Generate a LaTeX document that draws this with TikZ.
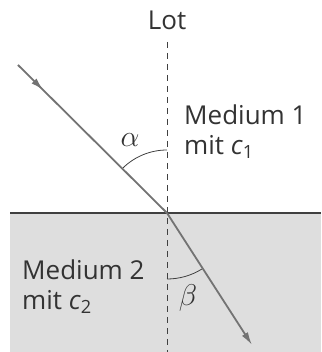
\documentclass[tikz,border=0pt]{standalone}
\usepackage{fix-cm}
\usepackage{fontspec}
\setmainfont{Open Sans}
\usetikzlibrary{arrows.meta, decorations.markings}

\begin{document}
\begin{tikzpicture}[
  x=1pt, y=1pt,
  label/.style={font=\fontsize{26}{30}\selectfont, text=black!80, inner sep=0pt},
  greek/.style={font=\fontsize{20}{24}\selectfont, scale=1.5, text=black!80, inner sep=0pt},
  lot/.style={draw=black!75, line width=0.9pt, dash pattern=on 6pt off 5pt},
  border/.style={draw=black!75, line width=2.8pt},
  ray/.style={draw=black!55, line width=1.8pt},
  angle/.style={draw=black!75, line width=0.8pt},
  tip/.style={-{Latex[length=13pt, width=7pt]}}
]
  \useasboundingbox (0,0) rectangle (321,352);

  % Medium 2 region.
  \fill[black!13] (10,0) rectangle (321,139);

  % Points on the rays.
  \coordinate (o) at (167,139);
  \coordinate (src) at (18,287);
  \coordinate (dst) at (252,7);
  \coordinate (lotT) at (167,310);
  \coordinate (lotB) at (167,0);
  \coordinate (bL) at (10,139);
  \coordinate (bR) at (321,139);

  % Perpendicular and boundary.
  \draw[lot] (lotT)--(lotB);
  \draw[border] (bL)--(bR);

  % Angle arcs.
  \draw[angle] ([shift={(90:63)}]o) arc[start angle=90, end angle=135, radius=63];
  \draw[angle] ([shift={(270:66)}]o) arc[start angle=270, end angle=302, radius=66];

  % Incident and refracted rays.
  \draw[ray, postaction={decorate}, decoration={markings,
    mark=at position 0.17 with {\arrow{Latex[length=13pt, width=7pt]}}}]
    (src)--(o);
  \draw[ray, tip] (o)--(dst);

  % Texts.
  \node[label] (lotTxt) at (167,332) {Lot};
  \node[greek] (alpha) at (130,212) {$\alpha$};
  \node[greek] (beta) at (188,54) {$\beta$};
  \node[label, anchor=west, align=left] (med1) at (184,220)
    {Medium 1\\mit \textit{c}\textsubscript{1}};
  \node[label, anchor=west, align=left] (med2) at (22,65)
    {Medium 2\\mit \textit{c}\textsubscript{2}};
\end{tikzpicture}
\end{document}
